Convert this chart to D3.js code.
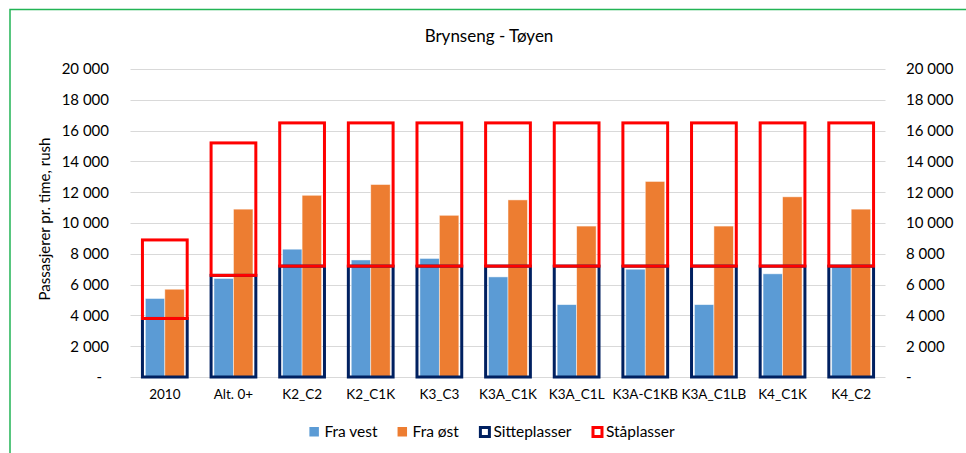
<!DOCTYPE html>
<html>
<head>
<meta charset="utf-8">
<script src="https://cdn.jsdelivr.net/npm/d3@7"></script>
<style>
  html, body { margin: 0; padding: 0; background: #fff; }
  svg { display: block; font-family: Lato, "Open Sans", sans-serif; }
</style>
</head>
<body>
<svg id="chart" width="966" height="453"></svg>
<script>
// Scenario labels along the x axis
const categories = ["2010", "Alt. 0+", "K2_C2", "K2_C1K", "K3_C3", "K3A_C1K", "K3A_C1L",
                    "K3A-C1KB", "K3A_C1LB", "K4_C1K", "K4_C2"];
// Passenger flows per rush hour
const fraVest = [5100, 6400, 8300, 7600, 7700, 6500, 4700, 7000, 4700, 6700, 7200];
const fraOst  = [5700, 10900, 11800, 12500, 10500, 11500, 9800, 12700, 9800, 11700, 10900];
// Capacity: seats, and standing places stacked on top of the seats
const sitteplasser = [3800, 6600, 7200, 7200, 7200, 7200, 7200, 7200, 7200, 7200, 7200];
const staplasser   = [5100, 8600, 9300, 9300, 9300, 9300, 9300, 9300, 9300, 9300, 9300];
// Axis ticks
const yTicks = [0, 2000, 4000, 6000, 8000, 10000, 12000, 14000, 16000, 18000, 20000];

const title = "Brynseng - Tøyen";
const yTitle = "Passasjerer pr. time, rush";

const colors = { vest: "#5b9bd5", ost: "#ed7d31", sitte: "#002060", sta: "#ff0000" };

const svg = d3.select("#chart");
const plot = { left: 130.5, right: 885.5, top: 69, bottom: 377 };

const x = d3.scaleBand().domain(categories).range([plot.left, plot.right]).paddingInner(0).paddingOuter(0);
const y = d3.scaleLinear().domain([0, 20000]).range([plot.bottom, plot.top]);

const fmt = v => v === 0 ? "-" : d3.format(",")(v).replace(/,/g, " ");

// Outer frame
svg.append("path")
  .attr("d", "M10,470 L10,9.5 L980,9.5")
  .attr("fill", "none").attr("stroke", "#22b455").attr("stroke-width", 1.5);

// Title
svg.append("text")
  .attr("x", 489).attr("y", 42)
  .attr("text-anchor", "middle")
  .attr("font-size", 17).attr("fill", "#000")
  .text(title);

// Gridlines
svg.append("g")
  .selectAll("line").data(yTicks).join("line")
  .attr("x1", plot.left).attr("x2", plot.right)
  .attr("y1", d => Math.round(y(d)) + 0.5).attr("y2", d => Math.round(y(d)) + 0.5)
  .attr("stroke", "#d9d9d9").attr("stroke-width", 1);

// Left axis
const leftAxis = d3.axisLeft(y).tickValues(yTicks).tickFormat(fmt).tickSize(0).tickPadding(0);
const gl = svg.append("g").attr("transform", "translate(109,0)").call(leftAxis);
gl.select(".domain").remove();
gl.selectAll("text").attr("font-size", 15).attr("font-family", "Lato, sans-serif").attr("fill", "#000")
  .attr("dx", d => d === 0 ? -7 : 0);

// Right axis
const rightAxis = d3.axisRight(y).tickValues(yTicks).tickFormat(fmt).tickSize(0).tickPadding(0);
const gr = svg.append("g").attr("transform", "translate(906,0)").call(rightAxis);
gr.select(".domain").remove();
gr.selectAll("text").attr("font-size", 15).attr("font-family", "Lato, sans-serif").attr("fill", "#000");

// Bottom axis labels
const bottomAxis = d3.axisBottom(x).tickSize(0).tickPadding(0);
const gb = svg.append("g").attr("transform", `translate(0,${plot.bottom + 12})`).call(bottomAxis);
gb.select(".domain").remove();
gb.selectAll("text").attr("font-size", 13.5).attr("font-family", "Lato, sans-serif").attr("fill", "#000");

// Y axis title
svg.append("text")
  .attr("transform", `translate(50,${(plot.top + plot.bottom) / 2 - 4}) rotate(-90)`)
  .attr("text-anchor", "middle")
  .attr("font-size", 15).attr("fill", "#000")
  .text(yTitle);

// Clustered flow bars
const step = x.bandwidth();
const barW = step * 0.284;
const boxW = step * 0.652;
const series = [
  { key: "vest", values: fraVest, offset: -barW },
  { key: "ost", values: fraOst, offset: 0 }
];
const barsG = svg.append("g");
series.forEach(s => {
  barsG.append("g").selectAll("rect").data(categories).join("rect")
    .attr("x", d => x(d) + step / 2 + s.offset)
    .attr("y", (d, i) => y(s.values[i]))
    .attr("width", barW)
    .attr("height", (d, i) => y(0) - y(s.values[i]))
    .attr("fill", colors[s.key])
    .attr("stroke", "#ffffff").attr("stroke-opacity", 0.6).attr("stroke-width", 0.8);
});

// Capacity boxes: seats from zero, standing places stacked above
const capG = svg.append("g");
capG.selectAll("rect.sitte").data(categories).join("rect")
  .attr("class", "sitte")
  .attr("x", d => x(d) + step / 2 - boxW / 2)
  .attr("y", (d, i) => y(sitteplasser[i]))
  .attr("width", boxW)
  .attr("height", (d, i) => y(0) - y(sitteplasser[i]))
  .attr("fill", "none").attr("stroke", colors.sitte).attr("stroke-width", 3);
capG.selectAll("rect.sta").data(categories).join("rect")
  .attr("class", "sta")
  .attr("x", d => x(d) + step / 2 - boxW / 2)
  .attr("y", (d, i) => y(sitteplasser[i] + staplasser[i]))
  .attr("width", boxW)
  .attr("height", (d, i) => y(sitteplasser[i]) - y(sitteplasser[i] + staplasser[i]))
  .attr("fill", "none").attr("stroke", colors.sta).attr("stroke-width", 3);

// Legend
const legendItems = [
  { label: "Fra vest", type: "fill", color: colors.vest },
  { label: "Fra øst", type: "fill", color: colors.ost },
  { label: "Sitteplasser", type: "box", color: colors.sitte },
  { label: "Ståplasser", type: "box", color: colors.sta }
];
const legend = svg.append("g");
let lx = 0;
const ly = 432;
const gap = 20;
legendItems.forEach((it, i) => {
  const g = legend.append("g").attr("transform", `translate(${lx},0)`);
  if (it.type === "fill") {
    g.append("rect").attr("x", 0).attr("y", ly - 5).attr("width", 9.5).attr("height", 9.5).attr("fill", it.color);
  } else {
    g.append("rect").attr("x", 1.5).attr("y", ly - 4.5).attr("width", 9).attr("height", 9)
      .attr("fill", "#fff").attr("stroke", it.color).attr("stroke-width", 3);
  }
  const tx = it.type === "fill" ? 15 : 14.5;
  const t = g.append("text").attr("x", tx).attr("y", ly).attr("dy", "0.35em")
    .attr("font-size", 15.5).attr("fill", "#000").text(it.label);
  lx += tx + t.node().getComputedTextLength() + gap;
});
const legendW = lx - gap;
legend.attr("transform", `translate(${492 - legendW / 2},0)`);
</script>
</body>
</html>
